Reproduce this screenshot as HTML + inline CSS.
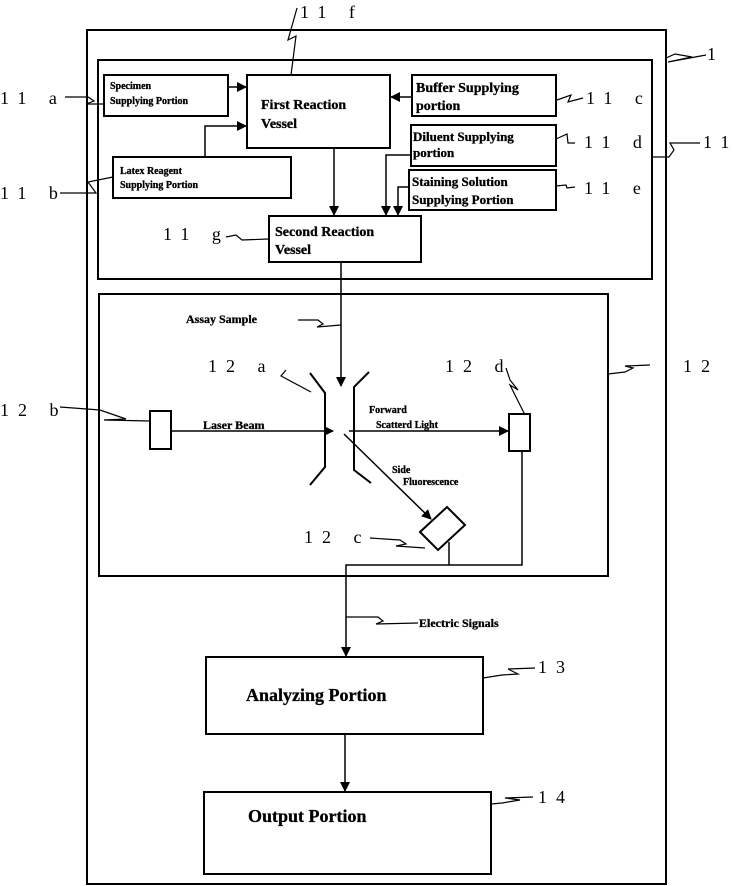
<!DOCTYPE html>
<html><head><meta charset="utf-8"><style>
html,body{margin:0;padding:0;background:#fff}
svg{display:block}
.b{font-family:"Liberation Serif",serif;font-weight:bold;fill:#000;stroke:#000;stroke-width:0.3}
.n{font-family:"Liberation Serif",serif;font-size:18px;fill:#000}
</style></head><body>
<svg width="734" height="886" viewBox="0 0 734 886" xmlns="http://www.w3.org/2000/svg">
<defs><marker id="a" markerWidth="10" markerHeight="10" refX="9" refY="5" orient="auto" markerUnits="userSpaceOnUse"><path d="M0,0 L10,5 L0,10 z" fill="#000"/></marker></defs>
<g fill="none" stroke="#000" stroke-width="2">
<rect x="87" y="30" width="579" height="854"/>
<rect x="98" y="60" width="554" height="219"/>
<rect x="104" y="75" width="124" height="41"/>
<rect x="247" y="75" width="143" height="73"/>
<rect x="412" y="75" width="144" height="41"/>
<rect x="411" y="125" width="145" height="41"/>
<rect x="409" y="170" width="147" height="40"/>
<rect x="113" y="157" width="178" height="41"/>
<rect x="269" y="216" width="152" height="46"/>
<rect x="99" y="294" width="509" height="282"/>
<rect x="150" y="411" width="21" height="38"/>
<rect x="509" y="414" width="21" height="37"/>
<polygon points="420,532 447,507 465,525 438,550"/>
<rect x="206" y="657" width="277" height="77"/>
<rect x="204" y="792" width="287" height="82"/>
<polyline points="310,373 325,393 325,467 310,485"/>
<polyline points="369,372 354,387 354,470 371,483"/>
</g>
<g fill="none" stroke="#000" stroke-width="1.5">
<line x1="228" y1="87" x2="246" y2="87" marker-end="url(#a)"/>
<polyline points="205,157 205,126 246,126" marker-end="url(#a)"/>
<line x1="412" y1="97" x2="391" y2="97" marker-end="url(#a)"/>
<line x1="334" y1="148" x2="334" y2="215" marker-end="url(#a)"/>
<polyline points="411,155 386,155 386,215" marker-end="url(#a)"/>
<polyline points="409,187 398,187 398,215" marker-end="url(#a)"/>
<line x1="341" y1="262" x2="341" y2="386" marker-end="url(#a)"/>
<line x1="171" y1="431" x2="333" y2="431" marker-end="url(#a)"/>
<line x1="349" y1="431" x2="508" y2="431" marker-end="url(#a)"/>
<line x1="344" y1="434" x2="431" y2="519" marker-end="url(#a)"/>
<polyline points="522,451 522,565 346,565 346,656" marker-end="url(#a)"/>
<line x1="449" y1="542" x2="449" y2="565"/>
<line x1="345" y1="734" x2="345" y2="791" marker-end="url(#a)"/>
</g>
<g fill="none" stroke="#000" stroke-width="1.2">
<path d="M65,97 L88,97 L94,101 L86,104 L104,104"/>
<path d="M60,193 L96,193 L88,182 L113,177"/>
<path d="M297,8 L288,40 L296,36 L291,75"/>
<path d="M557,100 L571,95 L568,102 L583,98"/>
<path d="M556,139 L567,134 L568,143 L575,143"/>
<path d="M556,186 L566,185 L567,188 L575,187"/>
<path d="M226,237 L236,235 L242,240 L268,239"/>
<path d="M666,58 L675,54 L692,57 L668,62 L706,55"/>
<path d="M652,157 L669,157 L674,150 L670,143 L700,143"/>
<path d="M298,320 L318,320 L323,324 L317,327 L341,325"/>
<path d="M286,370 L281,376 L311,392"/>
<path d="M506,368 L510,380 L518,390 L510,385 L525,415"/>
<path d="M60,407 L100,410 L126,419 L104,420 L150,421"/>
<path d="M608,374 L625,372 L633,368 L625,366 L650,365"/>
<path d="M370,538 L400,540 L406,544 L396,546 L425,548"/>
<path d="M346,617 L378,617 L383,621 L376,624 L418,623"/>
<path d="M483,678 L502,675 L518,674 L508,669 L535,668"/>
<path d="M491,804 L502,803 L520,800 L505,798 L533,797"/>
</g>
<text class="n" x="300" y="18" letter-spacing="9">11 f</text>
<text class="n" x="0" y="104" letter-spacing="9">11 a</text>
<text class="n" x="0" y="199" letter-spacing="9">11 b</text>
<text class="n" x="586" y="104" letter-spacing="9">11 c</text>
<text class="n" x="584" y="148" letter-spacing="9">11 d</text>
<text class="n" x="584" y="194" letter-spacing="9">11 e</text>
<text class="n" x="163" y="240" letter-spacing="9">11 g</text>
<text class="n" x="707" y="60">1</text>
<text class="n" x="703" y="148" letter-spacing="9">11</text>
<text class="n" x="208" y="372" letter-spacing="9">12 a</text>
<text class="n" x="445" y="372" letter-spacing="9">12 d</text>
<text class="n" x="0" y="416" letter-spacing="9">12 b</text>
<text class="n" x="683" y="372" letter-spacing="9">12</text>
<text class="n" x="304" y="543" letter-spacing="9">12 c</text>
<text class="n" x="538" y="673" letter-spacing="9">13</text>
<text class="n" x="538" y="803" letter-spacing="9">14</text>
<text class="b" font-size="10"><tspan x="110" y="89">Specimen</tspan><tspan x="110" y="104">Supplying Portion</tspan></text>
<text class="b" font-size="14"><tspan x="261" y="109">First Reaction</tspan><tspan x="261" y="128">Vessel</tspan></text>
<text class="b" font-size="14"><tspan x="416" y="92">Buffer Supplying</tspan><tspan x="416" y="110">portion</tspan></text>
<text class="b" font-size="13"><tspan x="413" y="141">Diluent Supplying</tspan><tspan x="413" y="157">portion</tspan></text>
<text class="b" font-size="13"><tspan x="412" y="186">Staining Solution</tspan><tspan x="412" y="204">Supplying Portion</tspan></text>
<text class="b" font-size="10"><tspan x="120" y="174">Latex Reagent</tspan><tspan x="120" y="188">Supplying Portion</tspan></text>
<text class="b" font-size="14"><tspan x="275" y="236">Second Reaction</tspan><tspan x="275" y="254">Vessel</tspan></text>
<text class="b" font-size="12" x="186" y="323">Assay Sample</text>
<text class="b" font-size="12" x="203" y="429">Laser Beam</text>
<text class="b" font-size="10"><tspan x="369" y="413">Forward</tspan><tspan x="376" y="428">Scatterd Light</tspan></text>
<text class="b" font-size="10"><tspan x="392" y="473">Side</tspan><tspan x="403" y="485">Fluorescence</tspan></text>
<text class="b" font-size="12" x="419" y="627">Electric Signals</text>
<text class="b" font-size="18" x="246" y="701">Analyzing Portion</text>
<text class="b" font-size="18" x="248" y="822">Output Portion</text>
</svg>
</body></html>
